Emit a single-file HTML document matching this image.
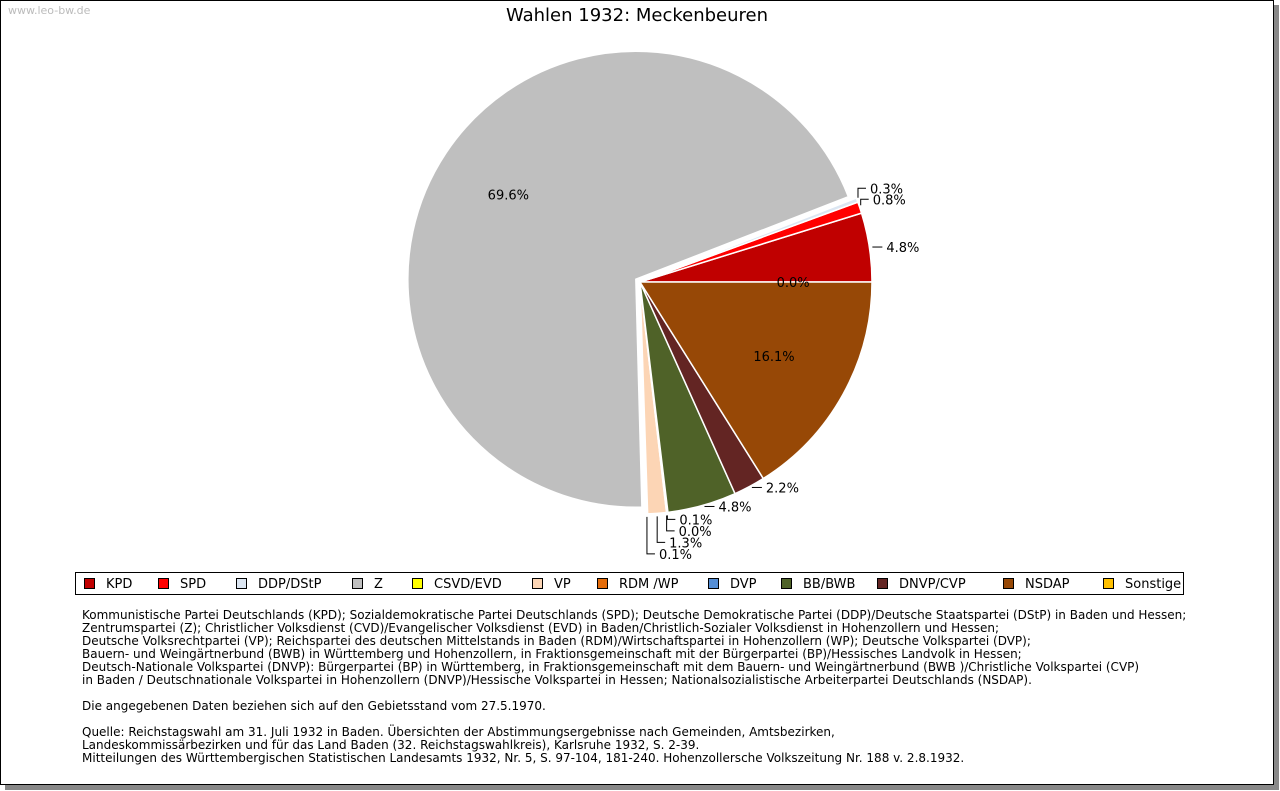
<!DOCTYPE html>
<html><head><meta charset="utf-8">
<style>
body{margin:0;width:1280px;height:791px;background:#fff;overflow:hidden;font-family:"DejaVu Sans","Liberation Sans",sans-serif;}
#frame{position:absolute;left:0;top:0;width:1272px;height:783px;border:1px solid #000;box-shadow:5px 5px 0 #888;background:#fff;}
#wm{position:absolute;left:8px;top:4px;font-size:11px;color:#bbb;}
#notes{position:absolute;left:82px;top:609px;font-size:12px;line-height:13px;color:#000;white-space:pre;}
svg{position:absolute;left:0;top:0;}
</style></head><body>
<div id="frame"></div>
<div id="wm">www.leo-bw.de</div>
<svg id="chart" width="1280" height="791">
<text x="637" y="21" font-size="18" text-anchor="middle" font-family="DejaVu Sans, sans-serif">Wahlen 1932: Meckenbeuren</text>
</svg>
<div id="notes">Kommunistische Partei Deutschlands (KPD); Sozialdemokratische Partei Deutschlands (SPD); Deutsche Demokratische Partei (DDP)/Deutsche Staatspartei (DStP) in Baden und Hessen;
Zentrumspartei (Z); Christlicher Volksdienst (CVD)/Evangelischer Volksdienst (EVD) in Baden/Christlich-Sozialer Volksdienst in Hohenzollern und Hessen;
Deutsche Volksrechtpartei (VP); Reichspartei des deutschen Mittelstands in Baden (RDM)/Wirtschaftspartei in Hohenzollern (WP); Deutsche Volkspartei (DVP);
Bauern- und Weingärtnerbund (BWB) in Württemberg und Hohenzollern, in Fraktionsgemeinschaft mit der Bürgerpartei (BP)/Hessisches Landvolk in Hessen;
Deutsch-Nationale Volkspartei (DNVP): Bürgerpartei (BP) in Württemberg, in Fraktionsgemeinschaft mit dem Bauern- und Weingärtnerbund (BWB )/Christliche Volkspartei (CVP)
in Baden / Deutschnationale Volkspartei in Hohenzollern (DNVP)/Hessische Volkspartei in Hessen; Nationalsozialistische Arbeiterpartei Deutschlands (NSDAP).

Die angegebenen Daten beziehen sich auf den Gebietsstand vom 27.5.1970.

Quelle: Reichstagswahl am 31. Juli 1932 in Baden. Übersichten der Abstimmungsergebnisse nach Gemeinden, Amtsbezirken,
Landeskommissärbezirken und für das Land Baden (32. Reichstagswahlkreis), Karlsruhe 1932, S. 2-39.
Mitteilungen des Württembergischen Statistischen Landesamts 1932, Nr. 5, S. 97-104, 181-240. Hohenzollersche Volkszeitung Nr. 188 v. 2.8.1932.</div>
<script>
const parties=["KPD","SPD","DDP/DStP","Z","CSVD/EVD","VP","RDM /WP","DVP","BB/BWB","DNVP/CVP","NSDAP","Sonstige"];
const shares=[4.8,0.8,0.3,69.6,0.1,1.3,0.0,0.1,4.8,2.2,16.1,0.0];
const colors=["#c00000","#ff0000","#dce6f2","#bfbfbf","#ffff00","#fcd5b5","#e46c0a","#558ed5","#4f6228","#632523","#974806","#ffc000"];
const legendX=[84,158,236,352,412,532,597,708,781,877,1003,1103];

const svg=document.getElementById('chart');
const NS="http://www.w3.org/2000/svg";
function mk(tag,attrs){const e=document.createElementNS(NS,tag);for(const k in attrs)e.setAttribute(k,attrs[k]);svg.appendChild(e);return e;}
const cx=640,cy=282,R=232;
const total=shares.reduce((a,b)=>a+b,0);
function pt(a,r,ox,oy){return [ox+r*Math.cos(a),oy-r*Math.sin(a)];}
let cum=0;
const rightLevels=[],bottomItems=[];
shares.forEach((v,i)=>{
  const a0=cum/total*2*Math.PI; cum+=v; const a1=cum/total*2*Math.PI;
  const mid=(a0+a1)/2;
  const isZ=parties[i]==="Z";
  const explode=isZ?5:0;
  const rr=isZ?228:R;
  const ox=cx+explode*Math.cos(mid), oy=cy-explode*Math.sin(mid);
  if(v>0){
    const p0=pt(a0,rr,ox,oy),p1=pt(a1,rr,ox,oy);
    const large=(a1-a0)>Math.PI?1:0;
    const s=mk('path',{d:`M${ox},${oy} L${p0[0]},${p0[1]} A${rr},${rr} 0 ${large} 0 ${p1[0]},${p1[1]} Z`,fill:colors[i],stroke:'#fff','stroke-width':1.5});
    
    
  }
  const label=v.toFixed(1)+'%';
  if(v>10||i===shares.length-1){
    const p=pt(mid,R*0.66,ox,oy);
    const t=mk('text',{x:p[0],y:p[1]+5,'font-size':13,'text-anchor':'middle'});
    t.textContent=label;
    
    
    return;
  }
  const e=pt(mid,rr+1,ox,oy);
  let path,tx,ty;
  if(v>=2){
    path=`M${e[0]+2},${e[1]} H${e[0]+12}`; tx=e[0]+16; ty=e[1]+5;
  } else if(Math.cos(mid)>0.5){
    let y=e[1]-8; if(rightLevels.length) y=Math.min(y,rightLevels[rightLevels.length-1]-11);
    rightLevels.push(y);
    path=`M${e[0]},${e[1]-2} V${y} H${e[0]+8}`; tx=e[0]+12; ty=y+5;
  } else {
    bottomItems.push({i,e,label}); return;
  }
  const l=mk('path',{d:path,stroke:'#000',fill:'none','stroke-width':1});
  
  
  const t=mk('text',{x:tx,y:ty,'font-size':13});
  t.textContent=label;
  
  
});
let yb=null;
for(let k=bottomItems.length-1;k>=0;k--){
  const b=bottomItems[k];
  let y=b.e[1]+6; if(yb!==null) y=Math.max(y,yb+11.5); yb=y;
  const l=mk('path',{d:`M${b.e[0]},${b.e[1]+2} V${y} H${b.e[0]+8}`,stroke:'#000',fill:'none','stroke-width':1});
  
  
  const t=mk('text',{x:b.e[0]+12,y:y+5,'font-size':13});
  t.textContent=b.label;
  
  
}
const lb=mk('rect',{x:75.5,y:572.5,width:1108,height:22,fill:'#fff',stroke:'#000','stroke-width':1});


parties.forEach((p,i)=>{
  const r=mk('rect',{x:legendX[i]+0.5,y:578.5,width:10,height:10,fill:colors[i],stroke:'#000','stroke-width':1});
  
  
  const t=mk('text',{x:legendX[i]+22,y:588,'font-size':13});
  t.textContent=p;
  
  
});
</script>
</body></html>
